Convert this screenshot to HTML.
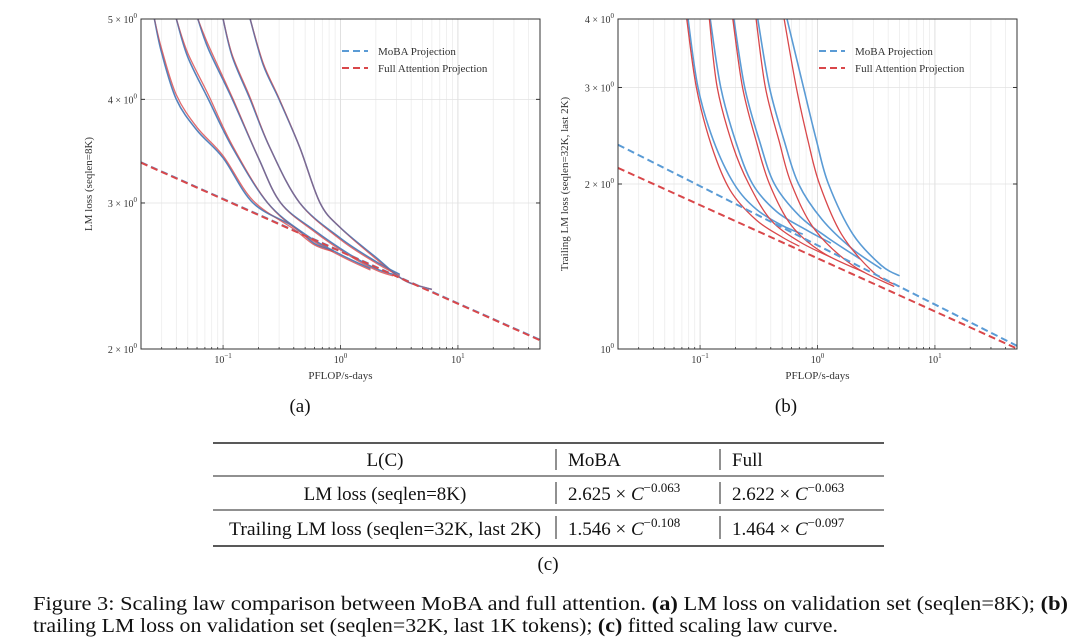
<!DOCTYPE html>
<html><head><meta charset="utf-8">
<style>
body{margin:0;background:#fff;width:1080px;height:639px;overflow:hidden;font-family:"Liberation Serif",serif;}
svg{position:absolute;left:0;top:0}
.tk{font-size:10px;fill:#333}
.lbl{font-size:11px;fill:#333}
.leg{font-size:11px;fill:#333}
.t{font-size:19px;fill:#111}
.cap{font-size:20px;fill:#111}
</style></head><body>
<svg id="fig" width="1080" height="639" viewBox="0 0 1080 639">
<g id="pa"></g>
<g id="pb"></g>
<text class="t" x="300" y="412" text-anchor="middle">(a)</text>
<text class="t" x="786" y="412" text-anchor="middle">(b)</text>
<g>
<line x1="213" x2="884" y1="443" y2="443" stroke="#222" stroke-width="1.6"/>
<line x1="213" x2="884" y1="476" y2="476" stroke="#222" stroke-width="1"/>
<line x1="213" x2="884" y1="510" y2="510" stroke="#222" stroke-width="1"/>
<line x1="213" x2="884" y1="546" y2="546" stroke="#222" stroke-width="1.6"/>
<line x1="556" x2="556" y1="449" y2="470" stroke="#222"/><line x1="720" x2="720" y1="449" y2="470" stroke="#222"/>
<line x1="556" x2="556" y1="482" y2="504" stroke="#222"/><line x1="720" x2="720" y1="482" y2="504" stroke="#222"/>
<line x1="556" x2="556" y1="516" y2="539" stroke="#222"/><line x1="720" x2="720" y1="516" y2="539" stroke="#222"/>
<text class="t" x="385" y="466" text-anchor="middle">L(C)</text>
<text class="t" x="568" y="466">MoBA</text>
<text class="t" x="732" y="466">Full</text>
<text class="t" x="385" y="500" text-anchor="middle">LM loss (seqlen=8K)</text>
<text class="t" x="568" y="500">2.625 × <tspan font-style="italic">C</tspan><tspan font-size="13" dy="-8">−0.063</tspan></text>
<text class="t" x="732" y="500">2.622 × <tspan font-style="italic">C</tspan><tspan font-size="13" dy="-8">−0.063</tspan></text>
<text class="t" x="229" y="535" textLength="312" lengthAdjust="spacingAndGlyphs">Trailing LM loss (seqlen=32K, last 2K)</text>
<text class="t" x="568" y="535">1.546 × <tspan font-style="italic">C</tspan><tspan font-size="13" dy="-8">−0.108</tspan></text>
<text class="t" x="732" y="535">1.464 × <tspan font-style="italic">C</tspan><tspan font-size="13" dy="-8">−0.097</tspan></text>
</g>
<text class="t" x="548" y="570" text-anchor="middle">(c)</text>
<text class="cap" x="33" y="610" textLength="1035" lengthAdjust="spacingAndGlyphs">Figure 3: Scaling law comparison between MoBA and full attention. <tspan font-weight="bold">(a)</tspan> LM loss on validation set (seqlen=8K); <tspan font-weight="bold">(b)</tspan></text>
<text class="cap" x="33" y="632" textLength="805" lengthAdjust="spacingAndGlyphs">trailing LM loss on validation set (seqlen=32K, last 1K tokens); <tspan font-weight="bold">(c)</tspan> fitted scaling law curve.</text>
</svg>
<script>
const xTicks=[0.1,1,10];
const xTickLabels=["10","10","10"];
const xTickExp=["−1","0","1"];
const aYTicks=[2,3,4,5];
const bYTicks=[1,2,3,4];
const aFit={moba:[2.625,-0.063],full:[2.622,-0.063]};
const bFit={moba:[1.546,-0.108],full:[1.464,-0.097]};
const aMoba=[
[[0.026,5],[0.03,4.55],[0.04,4.0],[0.06,3.67],[0.1,3.4],[0.18,3.0],[0.4,2.81],[0.6,2.68],[0.87,2.63]],
[[0.04,5],[0.05,4.5],[0.075,4.0],[0.12,3.5],[0.24,3.0],[0.5,2.75],[1.0,2.6],[1.8,2.5]],
[[0.061,5],[0.075,4.6],[0.12,4.0],[0.2,3.4],[0.31,3.0],[0.6,2.78],[1.2,2.6],[2.0,2.5],[2.8,2.46]],
[[0.1,5],[0.12,4.5],[0.17,4.0],[0.25,3.5],[0.45,3.0],[1.0,2.72],[2.0,2.55],[3.2,2.46]],
[[0.17,5],[0.22,4.4],[0.3,4.0],[0.45,3.5],[0.67,3.0],[1.0,2.8],[2.0,2.58],[3.5,2.42],[6.0,2.36]]];
const aFull=[
[[0.026,5],[0.03,4.6],[0.04,4.05],[0.06,3.7],[0.1,3.42],[0.18,3.02],[0.4,2.79],[0.6,2.67],[0.87,2.62]],
[[0.04,5],[0.05,4.55],[0.075,4.05],[0.12,3.52],[0.24,3.0],[0.5,2.74],[1.0,2.59],[1.8,2.49]],
[[0.061,5],[0.075,4.65],[0.12,4.02],[0.2,3.4],[0.31,3.0],[0.6,2.77],[1.2,2.59],[2.0,2.49],[2.8,2.45]],
[[0.1,5],[0.12,4.52],[0.17,4.02],[0.25,3.5],[0.45,3.0],[1.0,2.71],[2.0,2.54],[3.2,2.45]],
[[0.17,5],[0.22,4.42],[0.3,4.01],[0.45,3.5],[0.67,3.0],[1.0,2.8],[2.0,2.57],[3.5,2.42],[6.0,2.36]]];
const bMoba=[
[[0.079,4],[0.096,3],[0.13,2.4],[0.195,2.0],[0.3,1.8],[0.5,1.68],[0.75,1.62]],
[[0.122,4],[0.15,3],[0.2,2.4],[0.28,2.0],[0.45,1.78],[0.8,1.65],[1.3,1.56]],
[[0.194,4],[0.24,3],[0.32,2.4],[0.43,2.0],[0.7,1.75],[1.2,1.6],[2.3,1.46]],
[[0.31,4],[0.39,3],[0.52,2.4],[0.69,2.0],[1.1,1.72],[2.0,1.52],[3.5,1.4]],
[[0.55,4],[0.76,3],[0.98,2.4],[1.24,2.0],[2.0,1.62],[3.5,1.42],[5,1.36]]];
const bFull=[
[[0.077,4],[0.093,3],[0.125,2.35],[0.18,1.95],[0.3,1.72],[0.5,1.6],[0.7,1.54]],
[[0.12,4],[0.14,3],[0.19,2.35],[0.26,2.0],[0.4,1.72],[0.7,1.57],[1.3,1.47]],
[[0.19,4],[0.23,3],[0.3,2.4],[0.39,2.0],[0.6,1.68],[1.1,1.5],[2.5,1.38]],
[[0.30,4],[0.36,3],[0.47,2.4],[0.60,2.0],[0.95,1.65],[2.0,1.42],[4.5,1.3]],
[[0.52,4],[0.66,3],[0.83,2.4],[1.04,2.0],[1.6,1.62],[3.0,1.38],[5,1.3]]];

const NS="http://www.w3.org/2000/svg";
function mk(tag,attrs,parent){const e=document.createElementNS(NS,tag);for(const k in attrs)e.setAttribute(k,attrs[k]);parent.appendChild(e);return e;}
const BLUE="#5a9bd5",RED="#d9474a";
function draw(g,cfg){
  const L=cfg.left,R=cfg.left+399,T=19,B=349,xmin=0.02,xmax=50;
  const sx=v=>L+(Math.log10(v)-Math.log10(xmin))/(Math.log10(xmax)-Math.log10(xmin))*(R-L);
  const sy=v=>B-(Math.log10(v)-Math.log10(cfg.ymin))/(Math.log10(cfg.ymax)-Math.log10(cfg.ymin))*(B-T);
  const clip=mk('clipPath',{id:'c'+cfg.id},g);mk('rect',{x:L,y:T,width:R-L,height:B-T},clip);
  for(let d=-2;d<=1;d++)for(let m=1;m<10;m++){const v=m*Math.pow(10,d);if(v<xmin||v>xmax)continue;
    const gl=mk('line',{x1:sx(v),x2:sx(v),y1:T,y2:B,stroke:m==1?'#d8d8d8':'#ececec','stroke-width':0.8},g);
    
    
    mk('line',{x1:sx(v),x2:sx(v),y1:B,y2:B-(m==1?4:2),stroke:'#333','stroke-width':0.8},g);}
  cfg.yTicks.forEach(v=>{const yl=mk('line',{x1:L,x2:R,y1:sy(v),y2:sy(v),stroke:'#e2e2e2','stroke-width':0.8},g);
    
    
    mk('line',{x1:L,x2:L+4,y1:sy(v),y2:sy(v),stroke:'#333'},g);mk('line',{x1:R-4,x2:R,y1:sy(v),y2:sy(v),stroke:'#333'},g);
    const t=mk('text',{class:'tk',x:L-4,y:sy(v)+4,'text-anchor':'end'},g);
    
    
    if(v==1){t.textContent='10';}else{t.textContent=v+' × 10';}
    const s=mk('tspan',{dy:-5,'font-size':7},t);s.textContent='0';});
  xTicks.forEach((v,i)=>{const t=mk('text',{class:'tk',x:sx(v),y:B+14,'text-anchor':'middle'},g);
    
    
    t.textContent=xTickLabels[i];const s=mk('tspan',{dy:-5,'font-size':7},t);s.textContent=xTickExp[i];});
  const cg=mk('g',{'clip-path':'url(#c'+cfg.id+')'},g);
  const path=pts=>{const p=pts.map(q=>[sx(q[0]),sy(q[1])]);let d='M'+p[0][0]+','+p[0][1];
    for(let i=0;i<p.length-1;i++){const p0=p[Math.max(0,i-1)],p1=p[i],p2=p[i+1],p3=p[Math.min(p.length-1,i+2)];
      d+=' C'+(p1[0]+(p2[0]-p0[0])/6)+','+(p1[1]+(p2[1]-p0[1])/6)+' '+(p2[0]-(p3[0]-p1[0])/6)+','+(p2[1]-(p3[1]-p1[1])/6)+' '+p2[0]+','+p2[1];}
    return d;};
  cfg.moba.forEach(c=>{const e=mk('path',{d:path(c),fill:'none',stroke:BLUE,'stroke-width':1.6},cg);
    
    });
  cfg.full.forEach(c=>{const e=mk('path',{d:path(c),fill:'none',stroke:RED,'stroke-width':1.3,'stroke-opacity':cfg.id=='a'?0.8:1},cg);
    
    });
  if(cfg.id=='a'){cfg.moba.forEach(c=>{const e=mk('path',{d:path(c),fill:'none',stroke:'#5872a8','stroke-width':1.1,'stroke-opacity':0.7},cg);
    
    });}
  const fitLine=(f,col,name)=>{const e=mk('line',{x1:sx(xmin),y1:sy(f[0]*Math.pow(xmin,f[1])),x2:sx(xmax),y2:sy(f[0]*Math.pow(xmax,f[1])),stroke:col,'stroke-width':2,'stroke-dasharray':'7,4'},cg);
    
    };
  fitLine(cfg.fit.moba,BLUE,'moba-projection-line');fitLine(cfg.fit.full,RED,'full-projection-line');
  mk('rect',{x:L,y:T,width:R-L,height:B-T,fill:'none',stroke:'#333','stroke-width':1},g);
  const xl=mk('text',{class:'lbl',x:(L+R)/2,y:B+30,'text-anchor':'middle'},g);xl.textContent='PFLOP/s-days';
  
  
  const yl=mk('text',{class:'lbl',x:0,y:0,'text-anchor':'middle',transform:'translate('+cfg.ylx+','+(T+B)/2+') rotate(-90)'},g);yl.textContent=cfg.ylabel;
  
  
  const lx=cfg.legx;
  [['MoBA Projection',BLUE,51],['Full Attention Projection',RED,68]].forEach(it=>{
    const lg=mk('g',{},g);
    
    
    mk('line',{x1:lx,x2:lx+26,y1:it[2],y2:it[2],stroke:it[1],'stroke-width':2,'stroke-dasharray':'7,4'},lg);
    const t=mk('text',{class:'leg',x:lx+36,y:it[2]+4},lg);t.textContent=it[0];});
}
draw(document.getElementById('pa'),{id:'a',left:141,ymin:2,ymax:5,yTicks:aYTicks,moba:aMoba,full:aFull,fit:aFit,ylabel:'LM loss (seqlen=8K)',ylx:92,legx:342});
draw(document.getElementById('pb'),{id:'b',left:618,ymin:1,ymax:4,yTicks:bYTicks,moba:bMoba,full:bFull,fit:bFit,ylabel:'Trailing LM loss (seqlen=32K, last 2K)',ylx:568,legx:819});
</script>
</body></html>
